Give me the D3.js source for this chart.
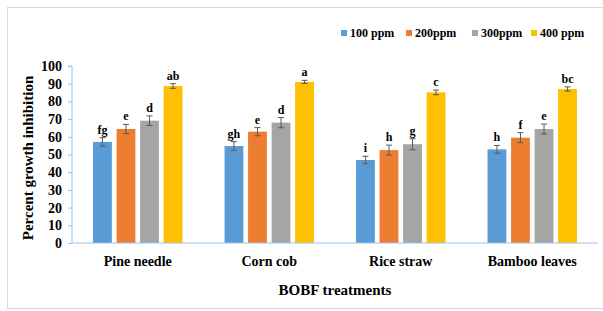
<!DOCTYPE html>
<html lang="en">
<head>
    <meta charset="UTF-8">
    <title>Percent growth inhibition - BOBF treatments</title>
    <script src="https://d3js.org/d3.v7.min.js"></script>
    <style>
        body {
            margin: 0;
            background: #fff;
            overflow: hidden;
        }
        svg {
            display: block;
        }
        svg text {
            font-family: "Liberation Serif", "DejaVu Serif", serif !important;
            font-weight: bold;
            fill: #000;
        }
        .tick text {
            font-size: 14px;
        }
    </style>
</head>
<body>
    <svg></svg>
    <script>
        // data
        const treatments = ["Pine needle", "Corn cob", "Rice straw", "Bamboo leaves"];
        const doses = ["100 ppm", "200ppm", "300ppm", "400 ppm"];
        const values = [
            [57.1, 64.4, 69.1, 88.7],
            [54.8, 62.9, 68.0, 91.0],
            [46.9, 52.5, 55.8, 85.1],
            [52.9, 59.5, 64.4, 87.0]
        ];
        const errors = [
            [2.4, 2.6, 2.7, 1.3],
            [2.5, 2.3, 2.9, 0.9],
            [2.1, 2.8, 3.1, 1.3],
            [2.2, 2.8, 2.8, 1.2]
        ];
        const letters = [
            ["fg", "e", "d", "ab"],
            ["gh", "e", "d", "a"],
            ["i", "h", "g", "c"],
            ["h", "f", "e", "bc"]
        ];
        const yTicks = [0, 10, 20, 30, 40, 50, 60, 70, 80, 90, 100];
        const colors = ["#5B9BD5", "#ED7D31", "#A5A5A5", "#FFC000"];

        const width = 603, height = 311;
        const margin = { top: 66, right: 5, bottom: 68, left: 72 };

        const svg = d3.select("svg")
            .attr("width", width)
            .attr("height", height);

        // outer frame of the figure
        svg.append("rect")
            .attr("x", 7.5).attr("y", 7.5)
            .attr("width", 610).attr("height", 301)
            .attr("fill", "none")
            .attr("stroke", "#d9d9d9");

        const x0 = d3.scaleBand()
            .domain(treatments)
            .range([margin.left, width - margin.right])
            .paddingInner(0.32)
            .paddingOuter(0.16);

        const x1 = d3.scaleBand()
            .domain(d3.range(doses.length))
            .range([0, x0.bandwidth()])
            .paddingInner(0.2);

        const y = d3.scaleLinear()
            .domain([0, 100])
            .range([height - margin.bottom, margin.top]);

        // y axis
        const yAxis = svg.append("g")
            .attr("transform", `translate(${margin.left},0)`)
            .call(d3.axisLeft(y).tickValues(yTicks).tickSize(4).tickPadding(6));
        yAxis.selectAll("path, line").attr("stroke", "#9dc3e6");
        yAxis.select(".domain").attr("d", `M-4,${y(100)}H0V${y(0)}`);

        // bars
        const groups = svg.append("g")
            .selectAll("g")
            .data(treatments)
            .join("g")
            .attr("transform", d => `translate(${x0(d)},0)`);

        const cells = groups.selectAll("g")
            .data((d, i) => values[i].map((v, j) => ({ v, j, e: errors[i][j], l: letters[i][j] })))
            .join("g");

        cells.append("rect")
            .attr("x", d => x1(d.j))
            .attr("y", d => y(d.v))
            .attr("width", x1.bandwidth())
            .attr("height", d => y(0) - y(d.v))
            .attr("fill", d => colors[d.j]);

        // error bars
        const cx = d => x1(d.j) + x1.bandwidth() / 2;
        cells.append("path")
            .attr("d", d => {
                const t = y(d.v + d.e), b = y(d.v - d.e), c = cx(d);
                return `M${c - 3},${t}H${c + 3}M${c},${t}V${b}M${c - 3},${b}H${c + 3}`;
            })
            .attr("stroke", "#595959")
            .attr("stroke-width", 1)
            .attr("fill", "none");

        // significance letters
        cells.append("text")
            .attr("x", cx)
            .attr("y", d => y(d.v + d.e) - 4)
            .attr("text-anchor", "middle")
            .attr("font-size", 12)
            .text(d => d.l);

        // baseline
        svg.append("line")
            .attr("x1", margin.left).attr("x2", width - margin.right)
            .attr("y1", y(0)).attr("y2", y(0))
            .attr("stroke", "#9dc3e6")
            .attr("stroke-width", 1.2);

        // category labels
        svg.append("g")
            .selectAll("text")
            .data(treatments)
            .join("text")
            .attr("x", d => x0(d) + x0.bandwidth() / 2)
            .attr("y", 266)
            .attr("text-anchor", "middle")
            .attr("font-size", 14)
            .text(d => d);

        // axis titles
        svg.append("text")
            .attr("x", (margin.left + width - margin.right) / 2)
            .attr("y", 295)
            .attr("text-anchor", "middle")
            .attr("font-size", 15)
            .text("BOBF treatments");

        svg.append("text")
            .attr("transform", "translate(33,158) rotate(-90)")
            .attr("text-anchor", "middle")
            .attr("font-size", 15)
            .text("Percent growth inhibition");

        // legend
        const legendX = [341, 406, 472, 531];
        const legend = svg.append("g")
            .selectAll("g")
            .data(doses)
            .join("g")
            .attr("transform", (d, i) => `translate(${legendX[i]},33)`);
        legend.append("rect")
            .attr("x", 0).attr("y", -3)
            .attr("width", 6).attr("height", 6)
            .attr("fill", (d, i) => colors[i]);
        legend.append("text")
            .attr("x", 9).attr("y", 4)
            .attr("font-size", 12)
            .text(d => d);
    </script>
</body>
</html>
